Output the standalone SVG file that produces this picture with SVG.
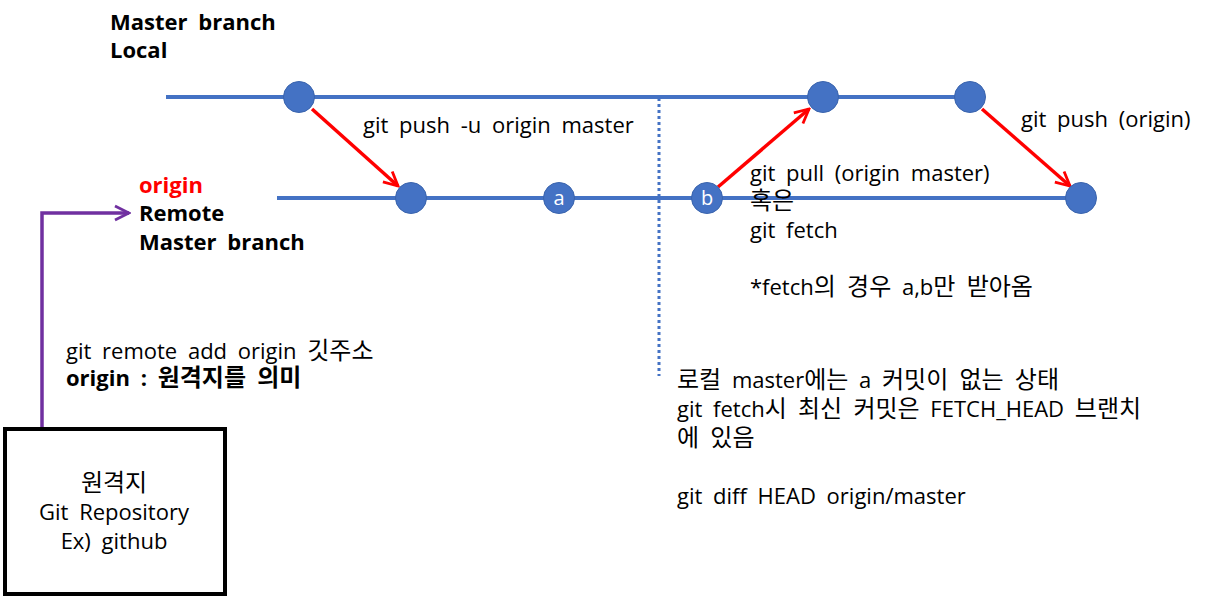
<svg xmlns="http://www.w3.org/2000/svg" width="1220" height="597" viewBox="0 0 1220 597">
<defs>
<marker id="ar" viewBox="0 0 10 10" refX="9" refY="5" markerWidth="5" markerHeight="5" markerUnits="strokeWidth" orient="auto">
<path d="M1,1 L9,5 L1,9" fill="none" stroke="#FF0000" stroke-width="1.6"/>
</marker>
<marker id="ap" viewBox="0 0 10 10" refX="9" refY="5" markerWidth="5" markerHeight="5" markerUnits="strokeWidth" orient="auto">
<path d="M1,1 L9,5 L1,9" fill="none" stroke="#7030A0" stroke-width="1.6"/>
</marker>
</defs>
<style>
text{font-family:"Open Sans","Noto Sans CJK KR",sans-serif;font-size:22px;fill:#000;word-spacing:5px}
.k{font-size:24px}
.b{font-weight:bold}
.c{fill:#4472C4;stroke:#3A64AD;stroke-width:1}
.ln{stroke:#4472C4;stroke-width:4;fill:none}
.red{stroke:#FF0000;stroke-width:3.5;fill:none;marker-end:url(#ar)}
.w{fill:#fff;font-size:20px;text-anchor:middle}
</style>
<rect width="1220" height="597" fill="#fff"/>
<g id="connectors">
<line class="ln" x1="166" y1="97" x2="970" y2="97"/>
<line class="ln" x1="277" y1="198" x2="1081" y2="198"/>
<line x1="659" y1="98" x2="659" y2="376" stroke="#4472C4" stroke-width="3" stroke-dasharray="3,3"/>
<line class="red" x1="312" y1="109" x2="398" y2="186"/>
<line class="red" x1="718" y1="187" x2="809" y2="109"/>
<line class="red" x1="982" y1="109" x2="1070" y2="186"/>
<polyline points="42,428 42,213 129,213" fill="none" stroke="#7030A0" stroke-width="3.5" marker-end="url(#ap)"/>
</g>
<g id="local-commits">
<circle class="c" cx="299" cy="97" r="15.5"/>
<circle class="c" cx="823" cy="97" r="15.5"/>
<circle class="c" cx="970" cy="97" r="15.5"/>
</g>
<g id="remote-commits">
<circle class="c" cx="411" cy="198" r="15.5"/>
<circle class="c" cx="559" cy="198" r="15.5"/>
<text class="w" x="559" y="205">a</text>
<circle class="c" cx="707" cy="198" r="15.5"/>
<text class="w" x="707" y="205">b</text>
<circle class="c" cx="1081" cy="198" r="15.5"/>
</g>
<g id="local-label">
<text class="b" x="110" y="30">Master branch</text>
<text class="b" x="110" y="58">Local</text>
</g>
<g id="remote-label">
<text class="b" x="139" y="193" style="fill:#FF0000">origin</text>
<text class="b" x="139" y="221">Remote</text>
<text class="b" x="139" y="250">Master branch</text>
</g>
<g id="labels">
<text x="363" y="133">git push -u origin master</text>
<text x="1021" y="127">git push (origin)</text>
<text x="750" y="181">git pull (origin master)</text>
<text x="750" y="209"><tspan class="k">혹은</tspan></text>
<text x="750" y="238">git fetch</text>
<text x="750" y="295">*fetch<tspan class="k">의 경우</tspan> a,b<tspan class="k">만 받아옴</tspan></text>
<text x="66" y="359">git remote add origin <tspan class="k">깃주소</tspan></text>
<text class="b" x="66" y="386">origin : <tspan class="k">원격지를 의미</tspan></text>
<text x="677" y="388"><tspan class="k">로컬</tspan> master<tspan class="k">에는</tspan> a <tspan class="k">커밋이 없는 상태</tspan></text>
<text x="677" y="417">git fetch<tspan class="k">시 최신 커밋은</tspan> FETCH_HEAD <tspan class="k">브랜치</tspan></text>
<text x="677" y="446"><tspan class="k">에 있음</tspan></text>
<text x="677" y="504">git diff HEAD origin/master</text>
</g>
<g id="repo">
<rect x="5" y="429" width="220" height="165" fill="#fff" stroke="#000" stroke-width="4"/>
<text x="114" y="491" text-anchor="middle"><tspan class="k">원격지</tspan></text>
<text x="114" y="520" text-anchor="middle">Git Repository</text>
<text x="114" y="549" text-anchor="middle">Ex) github</text>
</g>
</svg>
